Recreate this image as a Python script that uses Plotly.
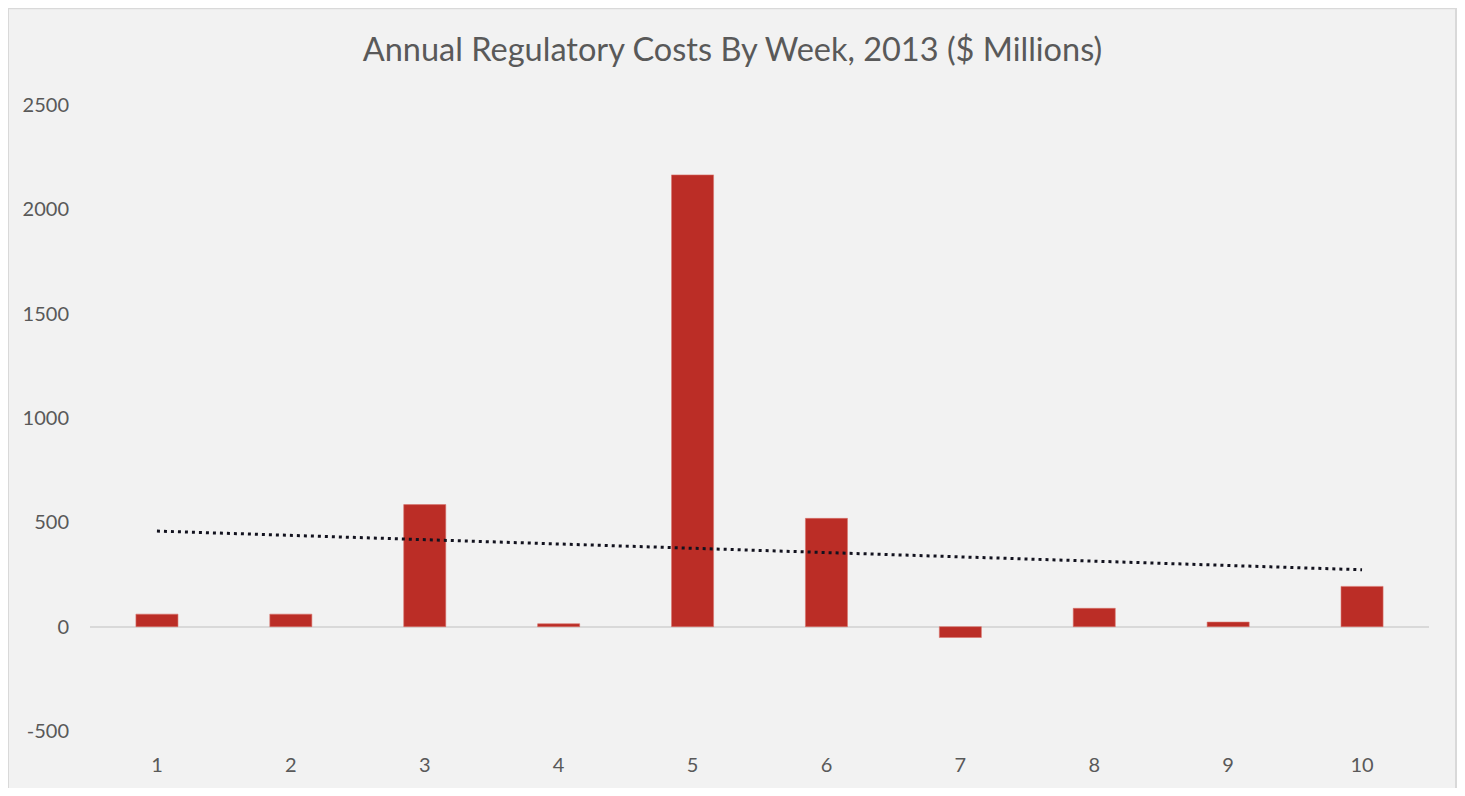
import numpy as np
import plotly.graph_objects as go

# ---- data ----
weeks = [1, 2, 3, 4, 5, 6, 7, 8, 9, 10]
week_labels = ["1", "2", "3", "4", "5", "6", "7", "8", "9", "10"]
costs = [60, 60, 585, 14, 2165, 519, -52, 88, 22, 193]
y_ticks = [-500, 0, 500, 1000, 1500, 2000, 2500]
y_tick_labels = ["-500", "0", "500", "1000", "1500", "2000", "2500"]

title_text = "Annual Regulatory Costs By Week, 2013 ($ Millions)"

# linear trendline fitted to the series (as in the source chart)
slope, intercept = np.polyfit(weeks, costs, 1)
trend = [slope * w + intercept for w in weeks]

# the page body adds an 8px margin, so the figure is sized to fit inside it
OFF = 8
W, H = 1465 - 2 * OFF, 796 - 2 * OFF
plot_left, plot_right, plot_top, plot_bottom = 90 - OFF, 1429 - OFF, 105 - OFF, 733 - OFF
L, R, T, B = plot_left, W - plot_right, plot_top, H - plot_bottom
pw, ph = plot_right - plot_left, plot_bottom - plot_top

def px_x(x):
    return (x - L) / pw

def px_y(y):
    return (plot_bottom - y) / ph

fig = go.Figure()
fig.add_trace(go.Bar(
    x=weeks, y=costs,
    marker=dict(color="#BB2D26", line=dict(color="#D9736C", width=0.6)),
    showlegend=False,
))
fig.add_trace(go.Scatter(
    x=weeks, y=trend, mode="lines",
    line=dict(color="#12121E", width=3, dash="3px,4px"),
    showlegend=False,
))

fig.add_shape(
    type="rect", xref="paper", yref="paper", layer="below",
    x0=px_x(0), x1=px_x(W - 1), y0=px_y(H + 20), y1=px_y(0),
    fillcolor="#F2F2F2", line=dict(color="#D9D9D9", width=2),
)

fig.update_layout(
    width=W, height=H,
    margin=dict(l=L, r=R, t=T, b=B),
    paper_bgcolor="white",
    plot_bgcolor="rgba(0,0,0,0)",
    bargap=0.686,
    font=dict(family="Lato", color="#595959", size=20),
    title=dict(
        text=title_text, x=0.5, xanchor="center",
        y=1 - (50 - OFF) / H, yanchor="middle", yref="container",
        font=dict(family="Lato", size=32.5, color="#595959"),
    ),
    xaxis=dict(
        tickmode="array", tickvals=weeks, ticktext=week_labels,
        range=[0.5, 10.5], showgrid=False, showline=False, zeroline=False,
        ticks="", ticklabelstandoff=20,
        tickfont=dict(family="Lato", size=20, color="#595959"),
    ),
    yaxis=dict(
        range=[-500, 2500], tickmode="array",
        tickvals=y_ticks, ticktext=y_tick_labels,
        showgrid=False, showline=False,
        zeroline=True, zerolinecolor="#D9D9D9", zerolinewidth=1.5,
        ticks="", ticklabelstandoff=20,
        tickfont=dict(family="Lato", size=20, color="#595959"),
    ),
)

fig.write_html("out.html")
